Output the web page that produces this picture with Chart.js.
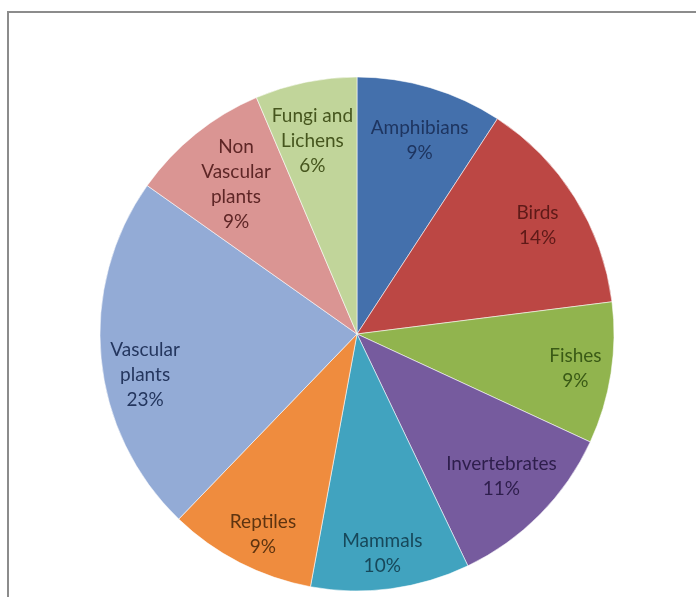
<!DOCTYPE html>
<html><head><meta charset="utf-8">
<script src="https://cdn.jsdelivr.net/npm/chart.js@4.4.1/dist/chart.umd.min.js"></script>
<style>
html,body{margin:0;padding:0;background:#fff;}
#wrap{position:relative;width:696px;height:597px;overflow:hidden;background:#fff;}
#frame{position:absolute;left:7px;top:11px;width:760px;height:700px;border-left:2px solid #8c8c8c;border-top:2px solid #8c8c8c;}
canvas{position:absolute;left:0;top:0;}
</style></head><body>
<div id="wrap"><div id="frame"></div><canvas id="c" width="696" height="597"></canvas></div>
<script>
const categories = ['Amphibians','Birds','Fishes','Invertebrates','Mammals','Reptiles','Vascular plants','Non Vascular plants','Fungi and Lichens'];
const labelLines = [['Amphibians'],['Birds'],['Fishes'],['Invertebrates'],['Mammals'],['Reptiles'],['Vascular','plants'],['Non','Vascular','plants'],['Fungi and','Lichens']];
const shares = [9.2, 13.8, 8.9, 11.0, 10.0, 9.3, 22.6, 8.8, 6.4];

const sliceColors = ['#4470AC','#BC4744','#91B44E','#765B9E','#41A3BF','#EF8C3E','#93ABD6','#DA9593','#C1D59A'];
const textColors  = ['#1E3560','#5E1A18','#3A5A16','#2E1E4C','#17485A','#5E3410','#24365E','#5E2626','#46561E'];
const labelRadial = [0.79,0.82,0.86,0.79,0.86,0.86,0.84,0.75,0.77];
const labelAngleShift = [1.4,1,0,0,1,-2,-5.6,0,-1.5];

const labelPlugin = {
  id: 'sliceLabels',
  afterDatasetsDraw(chart) {
    const ctx = chart.ctx;
    const meta = chart.getDatasetMeta(0);
    const total = shares.reduce((a, b) => a + b, 0);
    ctx.save();
    ctx.font = '19px Lato, "Open Sans", sans-serif';
    ctx.textAlign = 'center';
    ctx.textBaseline = 'middle';
    const lh = 25;
    meta.data.forEach((arc, i) => {
      const p = arc.getProps(['x','y','startAngle','endAngle','outerRadius'], true);
      const mid = (p.startAngle + p.endAngle) / 2 + labelAngleShift[i] * Math.PI / 180;
      const r = p.outerRadius * labelRadial[i];
      const cx = p.x + Math.cos(mid) * r;
      const cy = p.y + Math.sin(mid) * r;
      const lines = [...labelLines[i], Math.round(shares[i] / total * 100) + '%'];
      const y0 = cy - (lines.length - 1) * lh / 2;
      ctx.fillStyle = textColors[i];
      lines.forEach((t, k) => ctx.fillText(t, cx, y0 + k * lh));
    });
    ctx.restore();
  }
};

new Chart(document.getElementById('c'), {
  type: 'pie',
  data: {
    labels: categories,
    datasets: [{
      data: shares,
      backgroundColor: sliceColors,
      borderColor: 'rgba(255,255,255,0.55)',
      borderWidth: 1
    }]
  },
  options: {
    responsive: false,
    animation: false,
    radius: 257,
    layout: { padding: { top: 73, bottom: 2, left: 96, right: 78 } },
    plugins: { legend: { display: false }, tooltip: { enabled: false } }
  },
  plugins: [labelPlugin]
});
</script>
</body></html>
